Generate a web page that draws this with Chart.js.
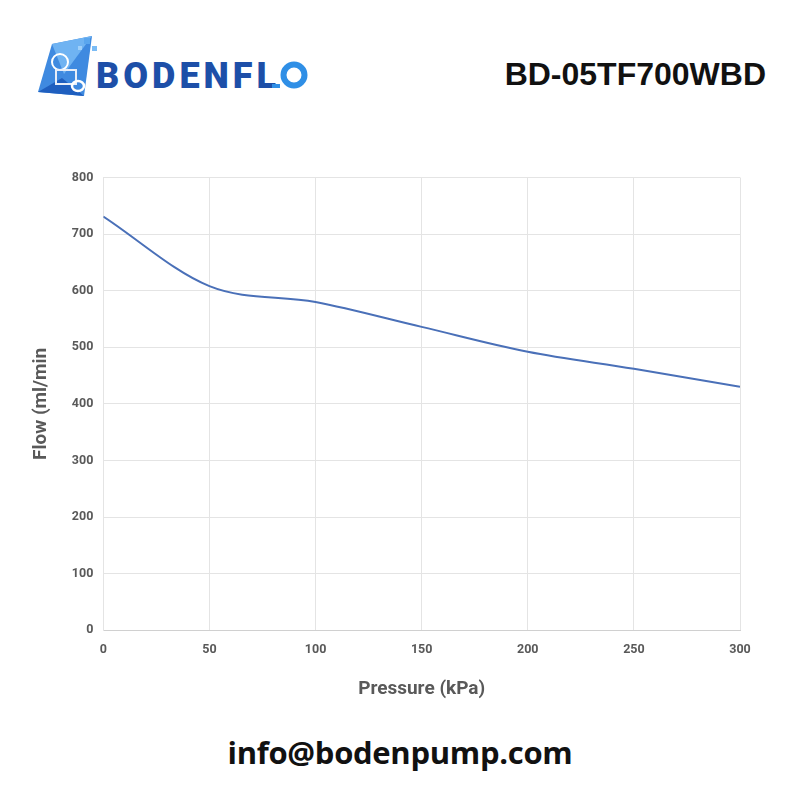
<!DOCTYPE html>
<html>
<head>
<meta charset="utf-8">
<script src="https://cdn.jsdelivr.net/npm/chart.js@4.4.1/dist/chart.umd.min.js"></script>
<style>
  html, body { margin: 0; padding: 0; background: #fff; }
  body { width: 800px; height: 800px; position: relative; overflow: hidden; }
  #logo { position: absolute; left: 34px; top: 34px; }
  #model { position: absolute; right: 34px; top: 56px; font: bold 32px "Liberation Sans", Arial, sans-serif; color: #111; }
  #email { position: absolute; left: 0; width: 800px; top: 731px; text-align: center;
           font: bold 31px "Open Sans", "Noto Sans", sans-serif; color: #111; letter-spacing: -0.3px; }
  #wrap { position: absolute; left: 0; top: 160px; width: 800px; height: 545px; }
</style>
</head>
<body>
<svg id="logo" width="280" height="76" viewBox="0 0 280 76">
  <polygon points="18,10 58,2 50,62 4,58" fill="#3f8ae0"/>
  <polygon points="18,10 58,2 30,40" fill="#6fb3f2"/>
  <polygon points="4,58 50,62 28,44" fill="#1f5fbf"/>
  <rect x="50" y="4" width="6" height="6" fill="#5aa6ee"/>
  <rect x="58" y="12" width="5" height="5" fill="#7bbcf5"/>
  <rect x="44" y="12" width="4" height="4" fill="#9fd0fa"/>
  <circle cx="26" cy="28" r="8" fill="none" stroke="#fff" stroke-width="2"/>
  <rect x="22" y="36" width="20" height="14" fill="none" stroke="#e8eef8" stroke-width="2"/>
  <ellipse cx="44" cy="52" rx="6" ry="5" fill="none" stroke="#fff" stroke-width="2.5"/>
  <text x="62" y="54" font-family="Roboto, 'DejaVu Sans', sans-serif" font-weight="900" font-size="36" fill="#1d4fa8" textLength="180" lengthAdjust="spacing">BODENFL</text>
  <rect x="238" y="50" width="8" height="4" fill="#2f8fe6"/>
  <circle cx="260" cy="41" r="10.5" fill="none" stroke="#2f8fe6" stroke-width="6"/>
</svg>
<div id="model">BD-05TF700WBD</div>
<div id="wrap"><canvas id="flowChart"></canvas></div>
<div id="email">info@bodenpump.com</div>
<script>
'use strict';

// pressure (kPa) vs flow (ml/min)
const pressure = [0, 50, 100, 150, 200, 250, 300];
const flow     = [731, 608, 580, 536, 492, 462, 430];

const xTicks = [0, 50, 100, 150, 200, 250, 300];
const yTicks = [0, 100, 200, 300, 400, 500, 600, 700, 800];

const tickFont = { family: 'Roboto, "Liberation Sans", sans-serif', size: 12.5, weight: 'bold' };
const titleFont = { family: 'Roboto, "Liberation Sans", sans-serif', size: 19, weight: 'bold' };

const chart = new Chart(document.getElementById('flowChart').getContext('2d'), {
    type: 'scatter',
    data: {
        datasets: [{
            data: pressure.map((p, i) => ({ x: p, y: flow[i] })),
            showLine: true,
            borderColor: '#4a70b8',
            borderWidth: 2,
            pointRadius: 0,
            tension: 0.4,
            cubicInterpolationMode: 'monotone'
        }]
    },
    options: {
        animation: false,
        responsive: true,
        maintainAspectRatio: false,
        layout: { padding: { left: 26, right: 60, top: 5, bottom: 0 } },
        plugins: { legend: { display: false }, tooltip: { enabled: false } },
        scales: {
            x: {
                type: 'linear', min: 0, max: 300,
                afterBuildTicks: (ax) => { ax.ticks = xTicks.map(v => ({ value: v })); },
                ticks: { color: '#595959', font: tickFont, padding: 12 },
                grid: { color: '#e4e4e4', drawTicks: false },
                border: { color: '#d0d0d0' },
                title: { display: true, text: 'Pressure (kPa)', color: '#595959', font: titleFont, padding: { top: 9 } }
            },
            y: {
                type: 'linear', min: 0, max: 800,
                afterBuildTicks: (ax) => { ax.ticks = yTicks.map(v => ({ value: v })); },
                ticks: { color: '#595959', font: tickFont, padding: 10 },
                grid: { color: '#e4e4e4', drawTicks: false },
                border: { color: '#e4e4e4' },
                title: { display: true, text: 'Flow (ml/min', color: '#595959', font: titleFont, padding: { bottom: 9 } }
            }
        }
    }
});
</script>
</body>
</html>
